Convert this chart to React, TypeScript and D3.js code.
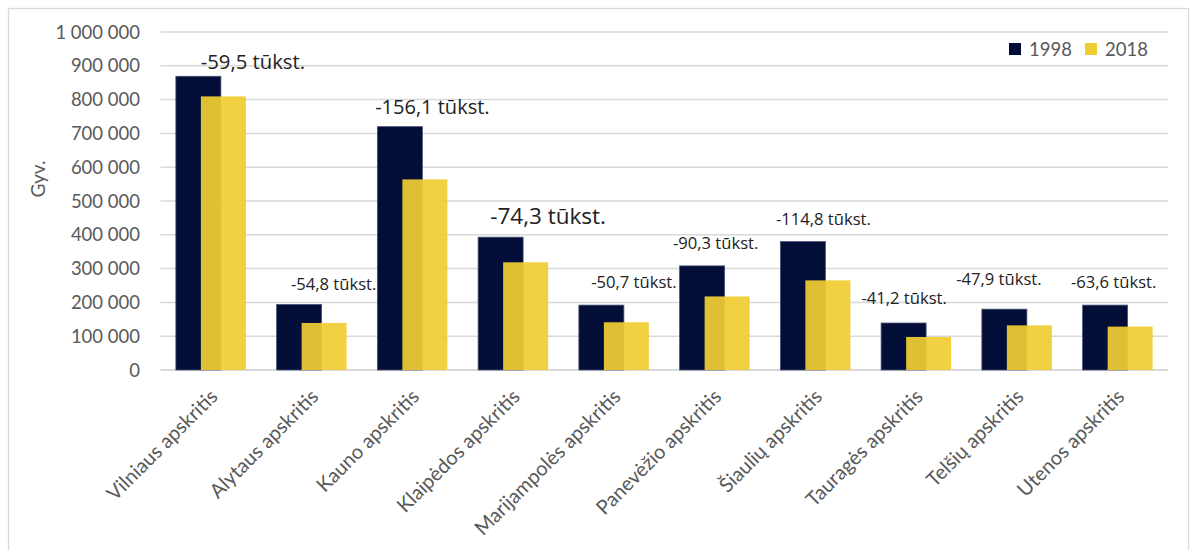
import React from "react";
import * as d3 from "d3";

const categories = [
  "Vilniaus apskritis",
  "Alytaus apskritis",
  "Kauno apskritis",
  "Klaipėdos apskritis",
  "Marijampolės apskritis",
  "Panevėžio apskritis",
  "Šiaulių apskritis",
  "Tauragės apskritis",
  "Telšių apskritis",
  "Utenos apskritis",
];
const values1998 = [869000, 194000, 720000, 393000, 192000, 308000, 380000, 139000, 180000, 192000];
const values2018 = [809500, 139200, 563900, 318700, 141300, 217700, 265200, 97800, 132100, 128400];
const changeLabels = [
  "-59,5 tūkst.",
  "-54,8 tūkst.",
  "-156,1 tūkst.",
  "-74,3 tūkst.",
  "-50,7 tūkst.",
  "-90,3 tūkst.",
  "-114,8 tūkst.",
  "-41,2 tūkst.",
  "-47,9 tūkst.",
  "-63,6 tūkst.",
];
const yTicks = [0, 100000, 200000, 300000, 400000, 500000, 600000, 700000, 800000, 900000, 1000000];
const seriesNames = ["1998", "2018"];

// layout of the free-floating change annotations (offset from category centre / bar top, font size)
const annotationLayout = [
  { dx: 42, dy: 7, size: 20.3 },
  { dx: 22, dy: 14, size: 16.6 },
  { dx: 20, dy: 13, size: 20 },
  { dx: 35, dy: 13, size: 22.5 },
  { dx: 20, dy: 17, size: 16.6 },
  { dx: 1, dy: 17, size: 16.6 },
  { dx: 8, dy: 17, size: 16.6 },
  { dx: -12, dy: 19, size: 16.6 },
  { dx: -18, dy: 24, size: 16.6 },
  { dx: -4, dy: 17, size: 16.6 },
];

const NAVY = "#020d38";
const YELLOW = "#f0cd33";
const GRID = "#d9d9d9";
const TEXT = "#595959";
const AXIS_FONT = "Lato, 'Open Sans', sans-serif";
const NOTE_FONT = "'Open Sans', 'Noto Sans', sans-serif";

export default function App() {
  const W = 1197;
  const H = 550;
  const plot = { left: 160.5, right: 1168, top: 32, bottom: 370 };

  const x = d3
    .scaleBand<string>()
    .domain(categories)
    .range([plot.left, plot.right])
    .paddingInner(0)
    .paddingOuter(0);
  const y = d3.scaleLinear().domain([0, 1000000]).range([plot.bottom, plot.top]);

  const barW = 45;
  const barOffset = 25;
  const groupW = barW + barOffset;
  const fmt = (v: number) => d3.format(",")(v).replace(/,/g, " ");

  return (
    <svg
      width={W}
      height={H}
      style={{ position: "absolute", left: 0, top: 0, background: "#fff" }}
    >
      <rect x={8.5} y={8.5} width={1180} height={600} fill="#fff" stroke={GRID} strokeWidth={1.3} />

      {yTicks.map((t) => (
        <g key={t}>
          <line
            x1={plot.left}
            x2={plot.right}
            y1={y(t)}
            y2={y(t)}
            stroke={GRID}
            strokeWidth={t === 0 ? 2 : 1.5}
          />
          <text
            x={140}
            y={y(t)}
            dy="0.36em"
            textAnchor="end"
            fontFamily={AXIS_FONT}
            fontSize={18.5}
            fill={TEXT}
          >
            {fmt(t)}
          </text>
        </g>
      ))}

      <text
        transform={`translate(45,${(plot.top + plot.bottom) / 2 - 22}) rotate(-90)`}
        textAnchor="middle"
        fontFamily={AXIS_FONT}
        fontSize={19}
        fill={TEXT}
      >
        Gyv.
      </text>

      {categories.map((c, i) => {
        const cx = (x(c) as number) + x.bandwidth() / 2;
        const x0 = cx - groupW / 2;
        return (
          <g key={c}>
            <rect
              x={x0}
              y={y(values1998[i])}
              width={barW}
              height={plot.bottom - y(values1998[i])}
              fill={NAVY}
              stroke="#4a5275"
              strokeWidth={0.8}
            />
            <rect
              x={x0 + barOffset}
              y={y(values2018[i])}
              width={barW}
              height={plot.bottom - y(values2018[i])}
              fill={YELLOW}
              fillOpacity={0.93}
            />
          </g>
        );
      })}

      {categories.map((c, i) => {
        const cx = (x(c) as number) + x.bandwidth() / 2;
        const a = annotationLayout[i];
        return (
          <text
            key={"n" + c}
            x={cx + a.dx}
            y={y(values1998[i]) - a.dy}
            textAnchor="middle"
            fontFamily={NOTE_FONT}
            fontSize={a.size}
            fill="#222"
          >
            {changeLabels[i]}
          </text>
        );
      })}

      {categories.map((c) => {
        const cx = (x(c) as number) + x.bandwidth() / 2;
        return (
          <text
            key={"x" + c}
            transform={`translate(${cx - 2},${plot.bottom + 18}) rotate(-45)`}
            textAnchor="end"
            dy="0.7em"
            fontFamily={AXIS_FONT}
            fontSize={20}
            fill={TEXT}
          >
            {c}
          </text>
        );
      })}

      {seriesNames.map((s, i) => (
        <g key={s} transform={`translate(${1009 + i * 76},43)`}>
          <rect width={12} height={12} fill={i === 0 ? NAVY : YELLOW} />
          <text x={20} y={6} dy="0.36em" fontFamily={AXIS_FONT} fontSize={18.5} fill={TEXT}>
            {s}
          </text>
        </g>
      ))}
    </svg>
  );
}
